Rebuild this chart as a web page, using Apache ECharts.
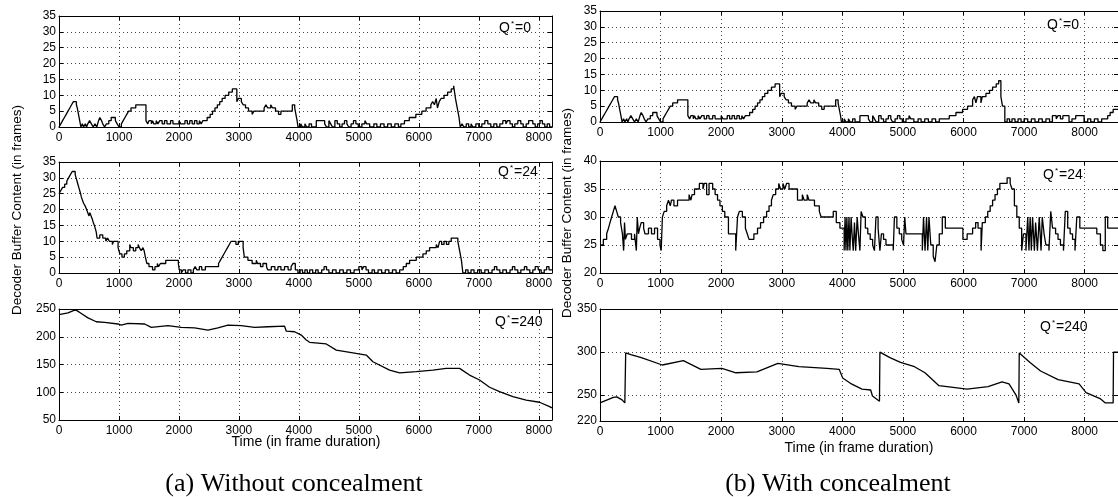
<!DOCTYPE html>
<html><head><meta charset="utf-8">
<script src="https://cdn.jsdelivr.net/npm/echarts@6/dist/echarts.min.js"></script>
<style>html,body{margin:0;padding:0;background:#fff}#c{width:1118px;height:497px}</style>
</head><body><div id="c"></div>
<script>
// ---- data: [time (frame duration), buffer content (frames)] ----
const noConcealQ0 = [[0,0],[30,1],[60,2],[90,3],[120,4],[150,5],[180,6],[210,7],[240,8],[290,7],[305,6],[315,5],[325,4],[335,3],[345,2],[355,1],[365,0],[390,1],[410,0],[440,1],[460,0],[480,1],[510,2],[540,1],[570,0],[600,1],[630,0],[660,2],[680,3],[710,2],[730,1],[760,0],[790,1],[830,2],[870,3],[940,2],[970,1],[1000,0],[1040,1],[1070,2],[1100,3],[1130,4],[1160,5],[1200,6],[1280,7],[1450,2],[1480,1],[1500,2],[1540,1],[1560,2],[1580,1],[1620,2],[1650,1],[1680,2],[1720,1],[1760,2],[1800,1],[1860,2],[1900,1],[2000,2],[2030,1],[2100,2],[2140,1],[2180,2],[2220,1],[2260,2],[2300,1],[2340,2],[2370,1],[2400,2],[2470,3],[2520,4],[2560,5],[2600,6],[2640,7],[2680,8],[2720,9],[2770,10],[2830,11],[2890,12],[2965,8],[2990,9],[3040,8],[3070,7],[3110,6],[3160,5],[3220,4],[3250,5],[3420,6],[3450,7],[3480,6],[3530,7],[3560,6],[3610,5],[3660,4],[3700,5],[3890,7],[3930,6],[3950,4],[3970,2],[3985,0],[4030,1],[4060,0],[4100,1],[4130,0],[4170,1],[4210,0],[4290,2],[4430,1],[4460,0],[4500,2],[4530,1],[4560,0],[4600,2],[4640,1],[4680,0],[4720,1],[4760,2],[4800,1],[4830,0],[4870,1],[4910,2],[4950,1],[4990,0],[5050,1],[5100,2],[5130,1],[5180,0],[5250,1],[5300,0],[5360,1],[5420,0],[5480,1],[5540,0],[5600,1],[5660,0],[5700,1],[5760,2],[5840,3],[5950,4],[6050,5],[6120,6],[6200,7],[6230,8],[6260,7],[6290,9],[6310,6],[6340,8],[6370,9],[6420,10],[6480,11],[6540,12],[6580,13],[6610,9],[6640,6],[6670,3],[6690,0],[6720,1],[6750,0],[6790,1],[6830,0],[6870,1],[6900,0],[6950,1],[7000,0],[7050,1],[7100,2],[7150,1],[7200,0],[7250,1],[7300,0],[7350,1],[7400,2],[7450,1],[7480,2],[7520,1],[7560,0],[7600,1],[7650,2],[7700,1],[7740,0],[7790,1],[7830,2],[7900,1],[7940,0],[7980,1],[8020,2],[8060,1],[8100,0],[8140,1],[8180,0],[8220,0]];

const noConcealQ24 = [[0,25],[30,26],[60,27],[95,28],[130,29],[160,30],[190,31],[220,32],[270,31],[285,30],[300,29],[315,28],[330,27],[345,26],[360,25],[372,24],[390,23],[410,22],[440,21],[460,20],[480,19],[500,18],[515,19],[535,18],[555,17],[570,16],[590,15],[605,14],[620,13],[635,11],[680,12],[730,11],[780,10],[810,11],[840,10],[890,9],[910,10],[985,8],[1000,7],[1015,6],[1050,5],[1090,6],[1130,7],[1180,9],[1200,8],[1240,7],[1280,8],[1320,9],[1340,8],[1370,7],[1400,8],[1420,7],[1440,5],[1465,3],[1500,2],[1560,1],[1600,2],[1640,3],[1660,2],[1690,3],[1780,4],[1990,3],[2005,1],[2040,0],[2070,1],[2110,0],[2150,1],[2200,0],[2240,1],[2270,2],[2300,1],[2340,2],[2380,1],[2440,2],[2660,3],[2690,4],[2720,5],[2750,6],[2780,7],[2810,8],[2840,9],[2870,10],[2950,9],[2990,10],[3070,8],[3090,5],[3150,4],[3220,3],[3290,4],[3310,3],[3360,2],[3400,3],[3460,2],[3480,1],[3540,2],[3600,1],[3650,2],[3700,1],[3760,2],[3820,1],[3870,2],[3900,3],[3940,1],[3984,0],[4020,1],[4060,0],[4100,1],[4140,0],[4180,1],[4230,0],[4280,1],[4320,0],[4380,1],[4420,2],[4460,1],[4500,0],[4560,1],[4620,0],[4680,1],[4740,0],[4800,1],[4860,0],[4920,1],[5000,2],[5050,1],[5080,2],[5120,1],[5160,0],[5220,1],[5260,0],[5320,1],[5380,0],[5440,1],[5500,0],[5560,1],[5620,0],[5680,1],[5740,2],[5790,3],[5846,4],[5957,5],[6068,6],[6123,7],[6179,8],[6240,8],[6290,9],[6320,8],[6346,10],[6380,9],[6420,10],[6460,9],[6500,10],[6540,11],[6650,10],[6680,7],[6710,4],[6734,0],[6780,1],[6820,0],[6870,1],[6920,0],[6980,1],[7040,0],[7100,1],[7160,0],[7220,1],[7260,2],[7300,1],[7350,0],[7400,1],[7460,0],[7520,1],[7560,2],[7600,1],[7650,0],[7700,1],[7760,2],[7800,1],[7850,0],[7900,1],[7940,2],[7990,1],[8040,0],[8090,1],[8130,2],[8170,1],[8220,1]];

const noConcealQ240 = [[0,240],[150,243],[261,248],[300,247],[372,242],[483,234],[622,227],[761,226],[983,223],[1039,221],[1150,224],[1428,223],[1539,217],[1817,220],[2039,217],[2261,216],[2483,212],[2650,216],[2817,221],[3039,220],[3261,217],[3483,218],[3761,219],[3790,210],[3928,209],[4039,203],[4123,194],[4179,190],[4456,187],[4623,176],[4901,171],[5123,167],[5234,155],[5512,140],[5679,135],[5957,137],[6234,140],[6456,143],[6679,143],[6845,131],[7012,122],[7179,109],[7345,101],[7568,92],[7790,86],[8012,82],[8179,74],[8220,72]];

const withConcealQ0 = [[0,0],[30,1],[60,2],[90,3],[120,4],[150,5],[180,6],[210,7],[240,8],[290,7],[305,6],[315,5],[325,4],[335,3],[345,2],[355,1],[365,0],[390,1],[410,0],[440,1],[460,0],[480,1],[510,2],[540,1],[570,0],[600,1],[630,0],[660,2],[680,3],[710,2],[730,1],[760,0],[790,1],[830,2],[870,3],[940,2],[970,1],[1000,0],[1040,1],[1070,2],[1100,3],[1130,4],[1160,5],[1200,6],[1280,7],[1450,2],[1480,1],[1500,2],[1540,1],[1560,2],[1580,1],[1620,2],[1650,1],[1680,2],[1720,1],[1760,2],[1800,1],[1860,2],[1900,1],[2000,2],[2030,1],[2100,2],[2140,1],[2180,2],[2220,1],[2260,2],[2300,1],[2340,2],[2370,1],[2400,2],[2470,3],[2520,4],[2560,5],[2600,6],[2640,7],[2680,8],[2720,9],[2770,10],[2830,11],[2890,12],[2965,8],[2990,9],[3040,8],[3070,7],[3110,6],[3160,5],[3220,4],[3250,5],[3420,6],[3450,7],[3480,6],[3530,7],[3560,6],[3610,5],[3660,4],[3700,5],[3890,7],[3930,6],[3950,4],[3970,2],[3985,0],[4030,1],[4060,0],[4100,1],[4130,0],[4170,1],[4210,0],[4290,2],[4430,1],[4460,0],[4500,2],[4530,1],[4560,0],[4600,2],[4640,1],[4680,0],[4720,1],[4760,2],[4800,1],[4830,0],[4870,1],[4910,2],[4950,1],[4990,0],[5050,1],[5100,2],[5130,1],[5180,0],[5250,1],[5300,0],[5360,1],[5420,0],[5480,1],[5540,0],[5600,1],[5683,1],[5765,2],[5875,3],[5985,4],[6067,5],[6150,7],[6180,8],[6205,6],[6230,8],[6287,6],[6310,8],[6370,9],[6430,10],[6480,11],[6540,12],[6580,13],[6617,8],[6644,5],[6682,0],[6720,1],[6760,0],[6800,1],[6850,0],[6900,1],[6950,0],[7000,1],[7060,0],[7120,1],[7180,0],[7240,1],[7300,0],[7360,1],[7420,0],[7467,2],[7530,1],[7560,2],[7600,1],[7640,2],[7742,0],[7790,1],[7852,2],[7990,0],[8050,1],[8100,0],[8160,1],[8220,0],[8280,1],[8380,2],[8420,3],[8470,4],[8550,4]];

const withConcealQ24 = [[0,25],[55,26],[110,27],[140,28],[165,29],[192,30],[220,31],[247,32],[275,31],[302,30],[340,29],[370,27],[390,24],[405,29],[420,26],[450,27],[520,26],[570,27],[600,24],[615,30],[635,27],[655,28],[680,29],[720,28],[742,27],[800,28],[850,27],[900,28],[950,26],[990,25],[1010,24],[1030,30],[1060,31],[1100,32],[1130,33],[1160,32],[1180,33],[1220,32],[1280,33],[1470,34],[1500,33],[1520,34],[1560,35],[1640,36],[1700,35],[1720,36],[1760,34],[1800,36],[1860,35],[1900,34],[1940,33],[1980,32],[2020,31],[2060,30],[2120,27],[2240,24],[2270,30],[2300,31],[2350,30],[2400,28],[2430,27],[2460,26],[2540,27],[2600,28],[2650,29],[2700,30],[2750,31],[2790,32],[2830,33],[2860,34],[2900,35],[2950,36],[2980,35],[3020,36],[3050,35],[3080,36],[3120,35],[3260,33],[3340,34],[3370,33],[3420,34],[3450,33],[3540,32],[3620,31],[3650,30],[3850,31],[3900,29],[3960,28],[4030,24],[4045,30],[4060,24],[4075,30],[4090,24],[4110,30],[4125,24],[4145,30],[4160,27],[4180,24],[4200,29],[4220,24],[4245,30],[4265,27],[4290,24],[4310,31],[4340,30],[4380,28],[4420,27],[4460,26],[4500,25],[4530,24],[4555,30],[4590,28],[4620,24],[4645,27],[4680,26],[4720,25],[4840,24],[4860,30],[4900,28],[4940,27],[4980,26],[5010,25],[5030,30],[5050,27],[5320,24],[5340,30],[5365,24],[5390,30],[5410,24],[5430,30],[5460,25],[5500,23],[5530,22],[5560,25],[5600,27],[5650,30],[5700,28],[5990,26],[6060,27],[6150,28],[6200,29],[6240,28],[6290,24],[6310,29],[6360,30],[6400,31],[6440,32],[6480,33],[6520,34],[6560,35],[6600,36],[6720,37],[6770,36],[6800,35],[6840,32],[6880,30],[6920,28],[6960,24],[6990,27],[7030,24],[7060,30],[7080,24],[7100,30],[7120,24],[7140,30],[7170,24],[7190,29],[7220,24],[7250,30],[7280,24],[7300,30],[7330,27],[7360,25],[7410,24],[7440,31],[7470,28],[7520,27],[7560,26],[7600,25],[7650,24],[7680,31],[7720,28],[7760,27],[7800,26],[7840,24],[7870,30],[7920,28],[8200,27],[8260,25],[8300,24],[8340,30],[8380,28],[8550,28]];

const withConcealQ240 = [[0,241],[220,247.5],[277,248],[364,244.5],[410,241],[418,241],[424,299],[509,297],[682,293.5],[1029,285],[1376,290],[1665,280],[2012,281],[2243,276],[2590,277],[2936,287],[3283,283],[3746,281],[3948,280],[4006,270],[4150,263],[4324,257],[4468,256],[4497,249],[4613,243],[4620,300],[4786,293.5],[4960,288],[5191,283],[5364,276],[5595,261],[5827,259],[6058,257],[6405,260],[6636,265.5],[6751,263],[6867,250],[6913,241],[6920,299],[7098,288],[7272,278],[7561,268],[7908,263],[8023,253],[8254,246],[8341,241],[8470,241],[8476,300],[8550,300]];

const xTickStep = 1000;
const yTicksQ0 = [0, 35, 5];
const yTicksQ24Right = [20, 40, 5];
const yTicksQ240Left = [50, 250, 50];
const yTicksQ240Right = [220, 250, 300, 350];
const qLabels = ['0', '24', '240', '0', '24', '240'];
const xTitle = 'Time (in frame duration)';
const yTitle = 'Decoder Buffer Content (in frames)';
const captions = ['(a) Without concealment', '(b) With concealment'];

// ---- layout ----
const FONT = '"Liberation Sans", Arial, Helvetica, sans-serif';
const grids = [
  {left: 59, top: 16, width: 493, height: 111},
  {left: 59, top: 162, width: 493, height: 111},
  {left: 59, top: 309, width: 493, height: 111},
  {left: 600, top: 11, width: 519, height: 111},
  {left: 600, top: 161, width: 519, height: 112},
  {left: 600, top: 309, width: 519, height: 112}
];
const xMax = [8220, 8220, 8220, 8550, 8550, 8550];
const yCfg = [
  {min: yTicksQ0[0], max: yTicksQ0[1], interval: yTicksQ0[2]},
  {min: yTicksQ0[0], max: yTicksQ0[1], interval: yTicksQ0[2]},
  {min: yTicksQ240Left[0], max: yTicksQ240Left[1], interval: yTicksQ240Left[2]},
  {min: yTicksQ0[0], max: yTicksQ0[1], interval: yTicksQ0[2]},
  {min: yTicksQ24Right[0], max: yTicksQ24Right[1], interval: yTicksQ24Right[2]},
  {min: yTicksQ240Right[0], max: yTicksQ240Right[yTicksQ240Right.length - 1], custom: yTicksQ240Right}
];
const seriesData = [noConcealQ0, noConcealQ24, noConcealQ240, withConcealQ0, withConcealQ24, withConcealQ240];
const isStep = [true, true, false, true, true, false];
const qPos = [[499, 28], [498, 172], [495, 322], [1047, 25], [1043, 175], [1040, 327]];

const dotted = {type: [1, 3], color: '#444', width: 1};
const axisLine = {show: true, onZero: false, lineStyle: {color: '#000', width: 1}};
const tick = {show: true, inside: true, length: 4, lineStyle: {color: '#000', width: 1}};
const plain = v => String(v);

const xAxes = [], yAxes = [], series = [];
grids.forEach((g, i) => {
  const xBase = {type: 'value', gridIndex: i, min: 0, max: xMax[i], interval: xTickStep, axisLine: axisLine};
  xAxes.push(Object.assign({}, xBase, {
    position: 'bottom', axisTick: tick,
    axisLabel: {show: true, color: '#000', fontSize: 12, fontFamily: FONT, margin: 5, showMaxLabel: false, formatter: plain},
    splitLine: {show: true, lineStyle: dotted}
  }));
  xAxes.push(Object.assign({}, xBase, {
    position: 'top', axisTick: tick, axisLabel: {show: false}, splitLine: {show: false}
  }));
  const yc = yCfg[i];
  const yBase = {type: 'value', gridIndex: i, min: yc.min, max: yc.max, axisLine: axisLine};
  if (yc.interval) yBase.interval = yc.interval;
  const tk = Object.assign({}, tick), lb = {show: true, color: '#000', fontSize: 12, fontFamily: FONT, margin: 3, formatter: plain};
  if (yc.custom) { tk.customValues = yc.custom; lb.customValues = yc.custom; }
  yAxes.push(Object.assign({}, yBase, {
    position: 'left', axisTick: tk, axisLabel: lb,
    splitLine: {show: true, lineStyle: dotted}
  }));
  yAxes.push(Object.assign({}, yBase, {
    position: 'right', axisTick: tk, axisLabel: {show: false}, splitLine: {show: false}
  }));
  series.push({
    type: 'line', xAxisIndex: 2 * i, yAxisIndex: 2 * i,
    data: seriesData[i], step: isStep[i] ? 'end' : false,
    symbol: 'none', showSymbol: false, silent: true, clip: true,
    lineStyle: {color: '#000', width: 1.3}
  });
});

const graphics = [];
qLabels.forEach((q, i) => {
  graphics.push({
    type: 'text', x: qPos[i][0], y: qPos[i][1], silent: true,
    style: {
      text: '{q|Q}{s|*}{q|=' + q + '}', textVerticalAlign: 'middle',
      rich: {
        q: {fontSize: 14, fontFamily: FONT, fill: '#000', color: '#000'},
        s: {fontSize: 8, fontFamily: FONT, fill: '#000', color: '#000', verticalAlign: 'top', padding: [0, 1, 8, 1]}
      }
    }
  });
});
[[17, 210], [567, 213]].forEach(p => {
  graphics.push({type: 'text', x: p[0], y: p[1], rotation: Math.PI / 2, silent: true,
    style: {text: yTitle, font: '13.5px ' + FONT, fill: '#000', textAlign: 'center', textVerticalAlign: 'middle'}});
});
[[306, 442], [859, 448]].forEach(p => {
  graphics.push({type: 'text', x: p[0], y: p[1], silent: true,
    style: {text: xTitle, font: '14px ' + FONT, fill: '#000', textAlign: 'center', textVerticalAlign: 'middle'}});
});
[[294, 484], [838, 484]].forEach((p, i) => {
  graphics.push({type: 'text', x: p[0], y: p[1], silent: true,
    style: {text: captions[i], font: '26px "Liberation Serif", "Times New Roman", serif', fill: '#000', textAlign: 'center', textVerticalAlign: 'middle'}});
});

const chart = echarts.init(document.getElementById('c'), null, {renderer: 'canvas'});
chart.setOption({
  backgroundColor: '#fff', animation: false,
  grid: grids, xAxis: xAxes, yAxis: yAxes, series: series, graphic: graphics
});
</script></body></html>
